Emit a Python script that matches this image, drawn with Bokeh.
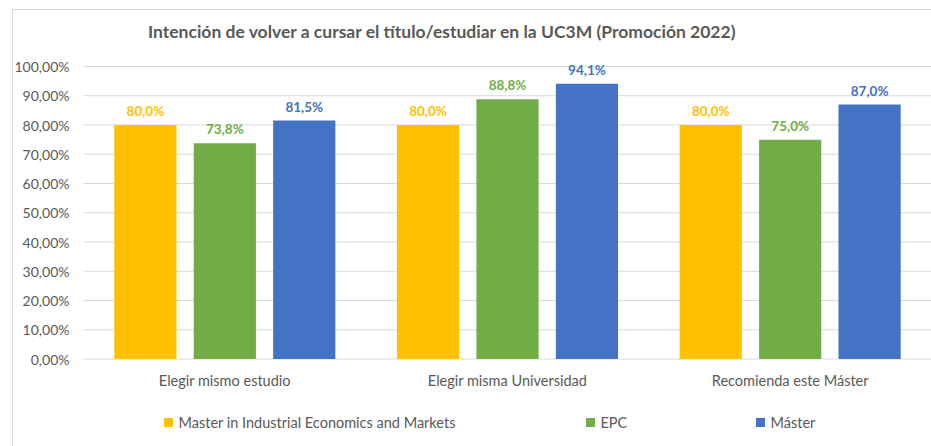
import numpy as np
from bokeh.plotting import figure
from bokeh.models import ColumnDataSource, Range1d
from bokeh.core.properties import value
from bokeh.embed import file_html
from bokeh.resources import INLINE

# ---- data ----
categories = ["Elegir mismo estudio", "Elegir misma Universidad", "Recomienda este Máster"]
series_names = ["Master in Industrial Economics and Markets", "EPC", "Máster"]
miem = [80.0, 80.0, 80.0]
epc = [73.8, 88.8, 75.0]
master = [81.5, 94.1, 87.0]
y_ticks = [0, 10, 20, 30, 40, 50, 60, 70, 80, 90, 100]
title_text = "Intención de volver a cursar el título/estudiar en la UC3M (Promoción 2022)"

# ---- style / layout ----
colors = ["#FFC000", "#70AD47", "#4472C4"]
FONT = "Lato"
GREY = "#595959"
GRID = "#d9d9d9"
W, H = 931, 446
LEFT_PX, RIGHT_PX = 83, 931
ZERO_PY, TOP_PY = 358.5, 66.0
offsets = [-0.281, 0.0, 0.281]
bar_w = 0.22
legend_px = [164, 586, 756]

n = len(categories)
ppx = (RIGHT_PX - LEFT_PX) / n
ppy = (ZERO_PY - TOP_PY) / y_ticks[-1]

def xpx(px):
    return (px - LEFT_PX) / ppx

def ypx(py):
    return (ZERO_PY - py) / ppy

def fmt(v):
    return f"{v:.1f}%".replace(".", ",")

p = figure(width=W, height=H, x_range=Range1d(xpx(0), xpx(W)), y_range=Range1d(ypx(H), ypx(0)),
           output_backend="svg", toolbar_location=None, x_axis_location=None, y_axis_location=None,
           min_border=0)
p.title = None
p.outline_line_color = None
p.xgrid.visible = False
p.ygrid.visible = False
p.background_fill_color = "white"
p.border_fill_color = "white"

# chart border
p.line(x=[xpx(12), xpx(12), xpx(W)], y=[ypx(H), ypx(9), ypx(9)], line_color=GRID, line_width=1)

# gridlines
p.segment(x0=[0] * len(y_ticks), x1=[n] * len(y_ticks), y0=y_ticks, y1=y_ticks,
          line_color=GRID, line_width=1)

centers = np.arange(n) + 0.5
series = [miem, epc, master]
for vals, off, c in zip(series, offsets, colors):
    src = ColumnDataSource(dict(x=centers + off, top=vals, lab=[fmt(v) for v in vals]))
    p.vbar(x="x", top="top", width=bar_w, source=src, fill_color=c, line_color=None)
    p.text(x="x", y="top", text="lab", source=src, text_color=c, text_font=value(FONT),
           text_font_size="13.5px", text_font_style="bold", text_align="center",
           text_baseline="alphabetic", y_offset=-14)

# y tick labels
p.text(x=[xpx(69)] * len(y_ticks), y=y_ticks,
       text=[f"{t:.2f}%".replace(".", ",") for t in y_ticks],
       text_font=value(FONT), text_font_size="14px", text_color=GREY,
       text_align="right", text_baseline="middle")

# category labels
p.text(x=centers, y=[ypx(380)] * n, text=categories, text_font=value(FONT),
       text_font_size="14.5px", text_color=GREY, text_align="center", text_baseline="middle")

# title
p.text(x=[xpx(442)], y=[ypx(31)], text=[title_text], text_font=value(FONT),
       text_font_size="17.5px", text_font_style="bold", text_color=GREY,
       text_align="center", text_baseline="middle")

# legend
p.scatter(x=[xpx(px + 4) for px in legend_px], y=[ypx(422)] * 3, marker="square", size=9,
          fill_color=colors, line_color=None)
p.text(x=[xpx(px + 14) for px in legend_px], y=[ypx(422)] * 3, text=series_names,
       text_font=value(FONT), text_font_size="14.5px", text_color=GREY,
       text_align="left", text_baseline="middle")

open("out.html", "w").write(file_html(p, INLINE))
